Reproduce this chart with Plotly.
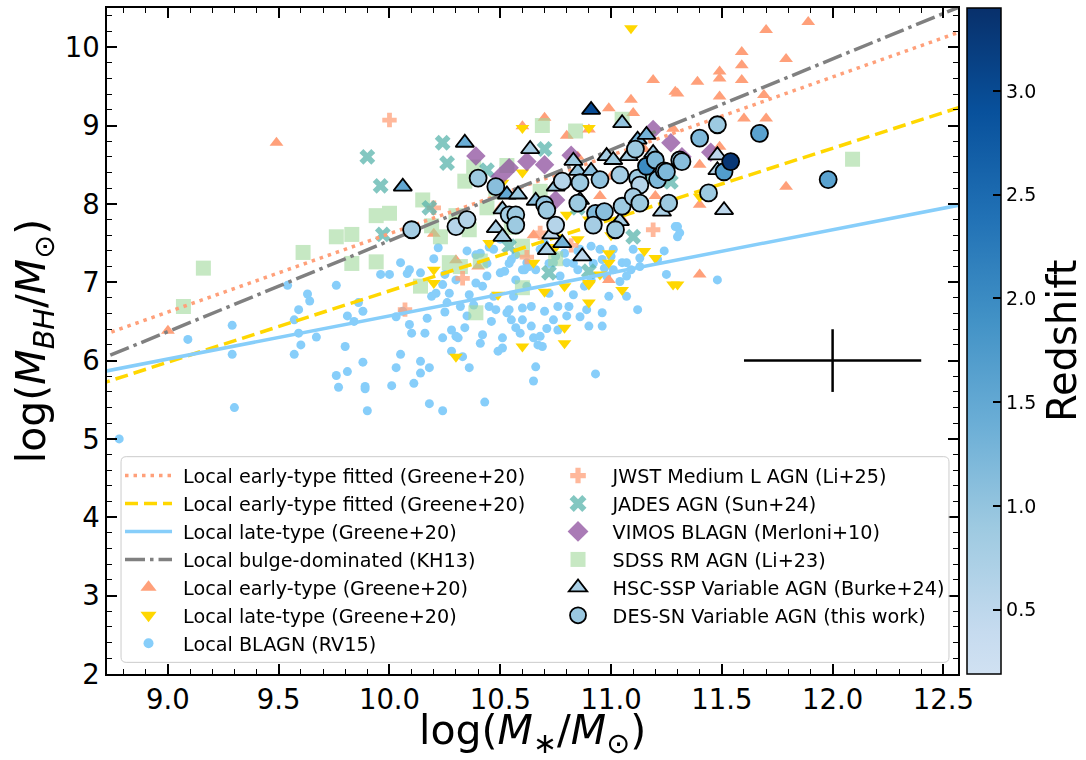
import plotly.graph_objects as go

# ---------------- data ----------------
blagn_x = [9.09, 9.29, 9.29, 9.30, 9.54, 9.57, 9.57, 9.59, 9.59, 9.60, 9.63, 9.64, 9.67, 9.76, 9.76, 9.77,
           9.80, 9.81, 9.81, 9.84, 9.86, 9.88, 9.88, 9.89, 9.89, 9.90, 9.96, 10.01, 10.03, 10.03, 10.05,
           10.06, 10.08, 10.09, 10.10, 10.11, 10.14, 10.14, 10.16, 10.17, 10.18, 10.18, 10.20, 10.19,
           10.21, 10.22, 10.24, 10.24, 10.24, 10.25, 10.26, 10.27, 10.28, 10.28, 10.30, 10.31, 10.33,
           10.34, 10.35, 10.36, 10.36, 10.38, 10.39, 10.39, 10.41, 10.42, 10.42, 10.43, 10.44, 10.45,
           10.46, 10.48, 10.49, 10.51, 10.51, 10.52, 10.53, 10.54, 10.55, 10.56, 10.57, 10.57, 10.59,
           10.60, 10.60, 10.61, 10.62, 10.64, 10.65, 10.65, 10.66, 10.67, 10.68, 10.69, 10.70, 10.71,
           10.72, 10.74, 10.75, 10.76, 10.77, 10.80, 10.81, 10.83, 10.85, 10.88, 10.89, 10.90, 10.91,
           10.93, 10.96, 10.96, 10.97, 10.98, 10.99, 11.01, 11.04, 11.05, 11.07, 11.09, 11.12,
           8.78, 11.24, 11.25, 11.30, 11.31, 11.48, 10.00, 10.05, 10.09, 10.14, 10.25, 10.55, 10.60,
           10.62, 10.66, 10.74, 10.80, 10.91, 10.96, 11.00, 11.07, 11.13, 11.21, 11.29, 11.30,
           10.45, 10.50, 10.35, 10.70, 10.85,
           10.41, 10.44, 10.47, 10.50, 10.54, 10.57, 10.63, 10.68, 10.72, 10.79, 10.83, 10.86,
           10.92, 10.95, 11.01, 11.07, 11.10, 11.13, 10.30, 10.32, 10.47, 10.64, 10.76, 10.86]
blagn_y = [6.27, 6.45, 6.08, 5.40, 6.96, 6.52, 6.08, 6.65, 6.35, 6.20, 6.85, 6.76, 6.30, 6.96, 5.81, 5.66,
           6.18, 5.86, 6.57, 6.50, 6.74, 6.63, 5.98, 5.67, 5.64, 5.36, 7.10, 5.68, 6.56, 5.91, 6.08,
           6.63, 7.11, 6.46, 6.35, 5.71, 5.99, 5.84, 6.35, 6.54, 5.91, 5.45, 7.30, 6.82,
           6.86, 7.44, 5.36, 6.29, 6.97, 6.62, 6.74, 6.86, 6.39, 6.12, 6.31, 6.29, 6.05,
           6.42, 6.57, 5.91, 6.84, 6.71, 7.35, 6.99, 6.22, 6.33, 6.95, 5.47, 7.08, 6.69,
           6.50, 6.65, 6.12, 6.29, 6.16, 7.14, 6.61, 6.65, 6.52, 6.82, 6.42, 7.03, 6.35,
           6.67, 6.52, 7.16, 6.95, 6.44, 5.74, 6.29, 5.92, 6.20, 6.31, 6.18, 6.63, 6.41,
           6.86, 6.52, 7.33, 6.69, 7.08, 6.57, 6.69, 6.84, 7.16, 6.95, 6.65, 6.44, 7.03,
           5.83, 6.44, 6.61, 7.18, 7.08, 6.82, 7.16, 7.01, 7.25, 6.82, 7.16, 6.65,
           5.00, 7.40, 7.10, 7.71, 7.63, 7.03, 7.10, 7.25, 7.16, 7.12, 7.10, 7.29, 7.16,
           7.25, 7.16, 7.25, 7.25, 7.46, 7.29, 7.33, 7.25, 7.31, 7.29, 7.71, 7.58,
           7.45, 7.55, 7.40, 7.50, 7.40,
           7.37, 7.24, 7.42, 7.12, 7.24, 7.35, 7.20, 7.42, 7.24, 7.37, 7.24, 7.42,
           7.24, 7.42, 7.42, 7.08, 7.42, 7.20, 7.03, 6.69, 6.82, 6.69, 6.39, 6.56]

early_x = [9.49, 9.00, 10.20, 10.30, 10.60, 10.70, 10.80, 10.90, 10.99, 10.99, 11.09, 11.10, 11.19, 11.29,
           11.30, 11.28, 11.39, 11.40, 11.40, 11.40, 11.49, 11.49, 11.49, 11.49, 11.59, 11.59, 11.59,
           11.60, 11.69, 11.70, 11.70, 11.79, 11.79, 11.89, 10.85, 10.75, 11.00, 11.20, 11.05, 10.95,
           11.15, 11.25, 10.50, 10.40, 10.65]
early_y = [8.78, 6.38, 7.62, 7.28, 8.99, 9.10, 8.87, 8.95, 9.22, 7.03, 9.33, 9.16, 9.58, 9.43,
           9.41, 8.96, 9.56, 8.50, 7.99, 7.10, 9.69, 9.60, 9.37, 8.73, 9.94, 9.77, 9.58,
           9.09, 9.39, 10.22, 9.09, 9.85, 8.22, 10.32, 8.60, 8.25, 8.35, 8.10, 7.80, 8.10,
           8.70, 8.00, 7.95, 7.20, 7.60]

late_x = [10.20, 10.20, 10.30, 10.49, 10.70, 10.79, 10.79, 10.79, 10.90, 10.90, 10.99, 10.99, 10.60,
          10.60, 10.60, 10.90, 10.80, 10.51, 11.20, 11.28, 10.90, 11.40, 11.30, 11.09, 10.85, 11.00,
          11.15, 10.75, 10.95, 11.05, 10.65, 10.45, 10.90]
late_y = [7.16, 6.99, 6.05, 6.84, 6.88, 6.95, 6.42, 6.22, 6.97, 6.74, 7.37, 7.25, 6.18,
          8.97, 8.40, 8.97, 7.86, 8.27, 7.31, 6.97, 6.99, 8.09, 6.97, 10.24, 7.55, 7.60,
          7.40, 7.45, 7.10, 6.90, 7.25, 7.50, 7.80]

jwst_x = [10.00, 10.07, 10.33, 10.62, 10.68, 10.82, 11.19, 10.20]
jwst_y = [9.07, 6.65, 7.05, 7.32, 7.63, 7.47, 7.67, 7.95]

jades_x = [9.90, 9.96, 9.97, 10.24, 10.26, 10.18, 10.44, 10.54, 10.72, 10.90, 11.10, 11.27, 10.70, 10.85, 11.15]
jades_y = [8.60, 8.23, 7.61, 8.78, 8.52, 7.95, 8.43, 7.46, 7.12, 7.14, 7.58, 8.28, 8.70, 7.95, 8.35]

vimos_x = [10.39, 10.54, 10.62, 10.70, 10.75, 10.82, 11.19, 11.27, 11.32, 11.45, 10.50]
vimos_y = [8.61, 8.46, 8.54, 8.50, 8.05, 8.62, 8.95, 8.78, 8.60, 8.66, 8.35]

sdss_x = [9.07, 9.16, 9.61, 9.76, 9.83, 9.83, 9.94, 10.00, 9.94, 10.14, 10.39, 10.32, 10.41, 10.60, 10.23,
          10.60, 10.69, 10.34, 10.15, 10.44, 10.36, 10.53, 10.68, 10.84, 11.05, 10.27, 10.60, 12.09,
          10.38, 10.19, 10.30, 10.48, 10.75, 10.55]
sdss_y = [6.69, 7.18, 7.38, 7.58, 7.61, 7.24, 7.85, 7.88, 7.26, 6.95, 6.61, 7.20, 7.27, 6.93, 7.58,
          7.41, 9.00, 8.29, 8.05, 7.95, 7.67, 8.49, 8.16, 8.93, 9.08, 7.25, 7.46, 8.57,
          8.47, 7.72, 7.85, 8.15, 7.30, 7.70]

hsc_x = [10.06, 10.34, 10.48, 10.51, 10.51, 10.53, 10.58, 10.635, 10.66, 10.71, 10.73, 10.75, 10.78, 10.85,
         10.86, 10.87, 10.91, 10.91, 10.98, 11.01, 11.04, 11.05, 11.08, 11.12, 11.19, 11.23, 11.48, 11.48,
         11.51, 10.83, 11.16]
hsc_y = [8.22, 8.78, 7.69, 7.58, 7.93, 8.12, 8.12, 8.70, 8.04, 7.41, 7.61, 8.22, 7.50, 8.42,
         8.05, 7.33, 8.42, 9.20, 8.61, 8.56, 7.78, 9.03, 8.61, 8.82, 8.65, 7.90, 8.62, 8.43,
         7.92, 8.55, 8.88]
hsc_z = [1.5, 1.4, 0.7, 0.8, 0.9, 1.5, 0.9, 0.8, 1.1, 0.7, 0.5, 0.9, 1.3, 1.0,
         0.8, 0.5, 1.1, 3.0, 0.8, 0.9, 0.8, 1.0, 0.8, 1.3, 0.9, 0.7, 0.5, 0.6,
         0.5, 0.9, 1.3]

des_x = [10.10, 10.30, 10.35, 10.40, 10.48, 10.54, 10.57, 10.57, 10.70, 10.71, 10.75, 10.78, 10.86, 10.85,
         10.95, 10.93, 10.97, 10.92, 11.02, 11.04, 11.05, 11.11, 11.12, 11.13, 11.16, 11.20, 11.21, 11.10,
         11.13, 11.24, 11.26, 11.31, 11.48, 11.67, 11.40, 11.32, 11.25, 11.44, 11.51, 11.54, 11.98]
des_y = [7.67, 7.71, 7.80, 8.33, 8.22, 7.86, 7.86, 7.73, 7.99, 7.92, 7.73, 8.29, 8.27, 8.01,
         8.31, 7.88, 7.90, 7.73, 7.67, 8.37, 7.97, 8.70, 8.33, 8.24, 8.48, 8.56, 8.31, 8.09,
         8.01, 8.42, 8.01, 8.56, 9.01, 8.90, 8.84, 8.54, 8.41, 8.14, 8.41, 8.54, 8.31]
des_z = [0.8, 0.6, 0.6, 0.9, 1.1, 0.8, 0.9, 0.9, 1.0, 0.9, 0.6, 0.6, 0.9, 0.9,
         1.0, 1.2, 1.1, 0.8, 0.9, 0.8, 0.9, 0.9, 0.9, 0.6, 2.0, 1.2, 1.2, 0.8,
         0.9, 1.0, 0.9, 0.9, 0.9, 1.6, 1.2, 1.1, 1.2, 0.9, 1.7, 3.3, 1.6]

# relation lines: (value at log M* = 11, slope)
line_x = [8.6, 12.7]
fit_early_dot = (8.62, 1.00)
fit_early_dash = (7.80, 0.91)
fit_late = (7.12, 0.55)
kh13 = (8.69, 1.16)

# typical uncertainty cross
err_x, err_y, err_dx, err_dy = 12.0, 6.0, 0.4, 0.4

x_range = [8.725, 12.566]
y_range = [2.0, 10.5]
z_range = [0.19, 3.40]

# ---------------- styling ----------------
FONT = "DejaVu Sans"
SALMON = "#FFA07A"
GOLD = "#FFD700"
SKY = "#87CEFA"
GRAY = "#808080"
TEAL = "#5ab4ac"
PURPLE = "#8e4f9e"
GREEN = "#a1d99b"
NB = "\u00a0"

blues = [(0.0, "#d0e1f2"), (0.0625, "#c6dbef"), (0.21875, "#9ecae1"), (0.375, "#6baed6"),
         (0.53125, "#4292c6"), (0.6875, "#2171b5"), (0.84375, "#08519c"), (1.0, "#08306b")]


def line_y(p):
    return [p[0] + p[1] * (x - 11.0) for x in line_x]


fig = go.Figure()

fig.add_trace(go.Scatter(x=blagn_x, y=blagn_y, mode="markers", showlegend=False,
                         marker=dict(symbol="circle", size=9, color=SKY, line=dict(width=0))))
fig.add_trace(go.Scatter(x=early_x, y=early_y, mode="markers", showlegend=False,
                         marker=dict(symbol="triangle-up", size=12, color=SALMON, line=dict(width=0))))
fig.add_trace(go.Scatter(x=late_x, y=late_y, mode="markers", showlegend=False,
                         marker=dict(symbol="triangle-down", size=12, color=GOLD, line=dict(width=0))))
fig.add_trace(go.Scatter(x=sdss_x, y=sdss_y, mode="markers", showlegend=False, opacity=0.6,
                         marker=dict(symbol="square", size=15, color=GREEN, line=dict(width=0))))
fig.add_trace(go.Scatter(x=jwst_x, y=jwst_y, mode="markers", showlegend=False, opacity=0.75,
                         marker=dict(symbol="cross", size=12, color=SALMON, line=dict(width=0))))
fig.add_trace(go.Scatter(x=jades_x, y=jades_y, mode="markers", showlegend=False, opacity=0.75,
                         marker=dict(symbol="x", size=14, color=TEAL, line=dict(width=0))))
fig.add_trace(go.Scatter(x=vimos_x, y=vimos_y, mode="markers", showlegend=False, opacity=0.75,
                         marker=dict(symbol="diamond", size=15, color=PURPLE, line=dict(width=0))))

fig.add_trace(go.Scatter(x=line_x, y=line_y(fit_early_dot), mode="lines", showlegend=False,
                         line=dict(color=SALMON, width=3.5, dash="3.5px,5px")))
fig.add_trace(go.Scatter(x=line_x, y=line_y(fit_early_dash), mode="lines", showlegend=False,
                         line=dict(color=GOLD, width=3.5, dash="13px,6px")))
fig.add_trace(go.Scatter(x=line_x, y=line_y(fit_late), mode="lines", showlegend=False,
                         line=dict(color=SKY, width=3.5)))
fig.add_trace(go.Scatter(x=line_x, y=line_y(kh13), mode="lines", showlegend=False,
                         line=dict(color=GRAY, width=3.5, dash="20px,5px,3.5px,5px")))

fig.add_trace(go.Scatter(x=hsc_x, y=hsc_y, mode="markers", showlegend=False,
                         marker=dict(symbol="triangle-up", size=16, color=hsc_z, coloraxis="coloraxis",
                                     line=dict(width=1.8, color="black"))))
fig.add_trace(go.Scatter(x=des_x, y=des_y, mode="markers", showlegend=False,
                         marker=dict(symbol="circle", size=17, color=des_z, coloraxis="coloraxis",
                                     line=dict(width=1.8, color="black"))))

fig.add_trace(go.Scatter(x=[err_x], y=[err_y], mode="markers", showlegend=False, hoverinfo="skip",
                         marker=dict(size=2, color="rgba(0,0,0,0)"),
                         error_x=dict(type="constant", value=err_dx, color="black", thickness=2.5, width=0),
                         error_y=dict(type="constant", value=err_dy, color="black", thickness=2.5, width=0)))

# ---------------- legend entries (legend-only traces) ----------------
leg1 = [
    ("Local early-type fitted (Greene+20)", dict(mode="lines", line=dict(color=SALMON, width=3.5, dash="3.5px,5px"))),
    ("Local early-type fitted (Greene+20)", dict(mode="lines", line=dict(color=GOLD, width=3.5, dash="13px,6px"))),
    ("Local late-type (Greene+20)", dict(mode="lines", line=dict(color=SKY, width=3.5))),
    ("Local bulge-dominated (KH13)", dict(mode="lines", line=dict(color=GRAY, width=3.5, dash="20px,5px,3.5px,5px"))),
    ("Local early-type (Greene+20)", dict(mode="markers", marker=dict(symbol="triangle-up", size=14, color=SALMON))),
    ("Local late-type (Greene+20)", dict(mode="markers", marker=dict(symbol="triangle-down", size=14, color=GOLD))),
    ("Local BLAGN (RV15)", dict(mode="markers", marker=dict(symbol="circle", size=10, color=SKY))),
]
leg2 = [
    ("JWST Medium L AGN (Li+25)", dict(mode="markers", opacity=0.75, marker=dict(symbol="cross", size=13, color=SALMON))),
    ("JADES AGN (Sun+24)", dict(mode="markers", opacity=0.75, marker=dict(symbol="x", size=15, color=TEAL))),
    ("VIMOS BLAGN (Merloni+10)", dict(mode="markers", opacity=0.75, marker=dict(symbol="diamond", size=16, color=PURPLE))),
    ("SDSS RM AGN (Li+23)", dict(mode="markers", opacity=0.6, marker=dict(symbol="square", size=15, color=GREEN))),
    ("HSC-SSP Variable AGN (Burke+24)", dict(mode="markers", marker=dict(symbol="triangle-up", size=16, color="#a9cfe5",
                                                                            line=dict(width=1.8, color="black")))),
    ("DES-SN Variable AGN (this work)", dict(mode="markers", marker=dict(symbol="circle", size=16, color="#9ac8e0",
                                                                           line=dict(width=1.8, color="black")))),
]
for name, kw in leg1:
    fig.add_trace(go.Scatter(x=[None], y=[None], name=NB + name, legend="legend", **kw))
for name, kw in leg2:
    fig.add_trace(go.Scatter(x=[None], y=[None], name=NB + name, legend="legend2", **kw))

# legend frame (rounded rectangle) in paper coordinates
fx0, fx1, fy0, fy1 = 0.0165, 0.9894, 0.0175, 0.3263
rx, ry = 0.006, 0.0078
frame_path = (f"M{fx0+rx},{fy0} L{fx1-rx},{fy0} Q{fx1},{fy0} {fx1},{fy0+ry} L{fx1},{fy1-ry} "
              f"Q{fx1},{fy1} {fx1-rx},{fy1} L{fx0+rx},{fy1} Q{fx0},{fy1} {fx0},{fy1-ry} "
              f"L{fx0},{fy0+ry} Q{fx0},{fy0} {fx0+rx},{fy0} Z")

leg_common = dict(xanchor="left", yanchor="top", bgcolor="rgba(0,0,0,0)", borderwidth=0,
                  font=dict(family=FONT, size=19.2, color="black"), itemwidth=47,
                  tracegroupgap=0, itemclick=False, itemdoubleclick=False)

axis_common = dict(showline=True, linewidth=1.5, linecolor="black", mirror="allticks",
                   ticks="inside", ticklen=10, tickwidth=1.5, tickcolor="black",
                   showgrid=False, zeroline=False, automargin=False,
                   tickfont=dict(family=FONT, size=27.5, color="black"))

fig.update_layout(
    width=1086, height=760,
    margin=dict(l=107, r=128, t=8, b=86),
    paper_bgcolor="white", plot_bgcolor="white",
    font=dict(family=FONT, color="black"),
    xaxis=dict(range=x_range, dtick=0.5, tick0=9.0, tickformat=".1f",
               minor=dict(dtick=0.1, ticks="inside", ticklen=5, tickwidth=1.2, tickcolor="black"),
               **axis_common),
    yaxis=dict(range=y_range, dtick=1, tick0=0,
               minor=dict(dtick=0.2, ticks="inside", ticklen=5, tickwidth=1.2, tickcolor="black"),
               title=dict(text="log(<i>M</i><sub><i>BH</i></sub>/<i>M</i><sub>⊙</sub>)",
                          font=dict(family=FONT, size=41, color="black"), standoff=6),
               **axis_common),
    coloraxis=dict(cmin=z_range[0], cmax=z_range[1], colorscale=blues,
                   colorbar=dict(x=1.0106, xanchor="left", y=0.5, yanchor="middle",
                                 len=1.0, lenmode="fraction", thickness=34, thicknessmode="pixels",
                                 xpad=0, ypad=0, outlinewidth=1.5, outlinecolor="black",
                                 ticks="inside", ticklen=8, tickwidth=1.5, tickcolor="black",
                                 tickvals=[0.5, 1.0, 1.5, 2.0, 2.5, 3.0],
                                 ticktext=["0.5", "1.0", "1.5", "2.0", "2.5", "3.0"],
                                 tickfont=dict(family=FONT, size=19, color="black"))),
    annotations=[
        dict(text="Redshift", xref="paper", yref="paper", x=1.1222, y=0.5,
             xanchor="center", yanchor="middle", textangle=-90, showarrow=False,
             font=dict(family=FONT, size=40, color="black")),
        dict(text="log(<i>M</i><sub>∗</sub>/<i>M</i><sub>⊙</sub>)", xref="paper", yref="paper",
             x=0.5, y=-0.088, xanchor="center", yanchor="middle", showarrow=False,
             font=dict(family=FONT, size=41, color="black")),
    ],
    legend=dict(x=0.0153, y=0.3265, **leg_common),
    legend2=dict(x=0.520, y=0.3265, **leg_common),
    shapes=[dict(type="path", path=frame_path, xref="paper", yref="paper",
                 fillcolor="rgba(255,255,255,0.8)", line=dict(color="#cccccc", width=1), layer="above")],
)

fig.write_html("out.html", config={"displayModeBar": False},
               post_script="document.body.style.margin='0px';")
